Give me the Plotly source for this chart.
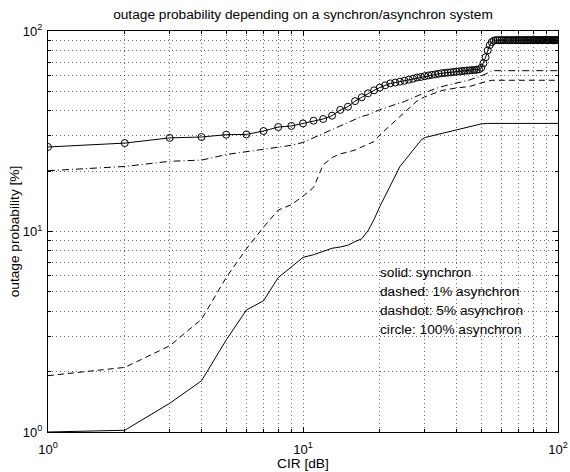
import plotly.graph_objects as go

# ---- data ----
cir_circle = list(range(1, 101))
p_circle = [26.4, 27.6, 29.3, 29.6, 30.4, 30.5, 31.7, 33.2, 33.6, 34.6,
            35.7, 36.4, 37.8, 40.4, 41.9, 44.7, 46.7, 48.9, 50.6, 52.2,
            53.6, 54.8, 55.3, 55.9, 56.5, 57.2, 57.8, 58.6, 59.0, 59.5,
            60.0, 60.4, 60.8, 61.2, 61.6, 61.8, 62.0, 62.2, 62.5, 62.7,
            62.9, 63.1, 63.3, 63.5, 63.6, 63.8, 63.9, 64.1, 64.4, 65.5,
            69.0, 74.0, 80.0, 85.0, 88.0, 89.5, 90.0, 90.0, 90.0, 90.0,
            90.0, 90.0, 90.0, 90.0, 90.0, 90.0, 90.0, 90.0, 90.0, 90.0,
            90.0, 90.0, 90.0, 90.0, 90.0, 90.0, 90.0, 90.0, 90.0, 90.0,
            90.0, 90.0, 90.0, 90.0, 90.0, 90.0, 90.0, 90.0, 90.0, 90.0,
            90.0, 90.0, 90.0, 90.0, 90.0, 90.0, 90.0, 90.0, 90.0, 90.0]

cir_dashdot = [1, 2, 3, 4, 5, 6, 7, 8, 9, 10, 12, 13, 15, 17, 18, 20, 22, 25,
               27, 30, 33, 36, 40, 45, 49, 52, 55, 100]
p_dashdot = [20.1, 21.1, 22.4, 22.7, 24.2, 25.0, 25.8, 26.4, 26.9, 27.8, 30.8,
             32.3, 35.0, 37.5, 38.2, 40.5, 42.2, 44.5, 46.5, 49.0, 51.6, 53.3,
             54.8, 57.0, 59.2, 61.0, 63.4, 63.4]

cir_dashed = [1, 2, 3, 4, 5, 6, 7, 8, 9, 10, 11, 12, 13, 14, 15, 16, 17, 18,
              19, 20, 21, 22, 23, 24, 25, 26, 27, 28, 30, 35, 40, 45, 50, 55, 100]
p_dashed = [1.91, 2.10, 2.69, 3.65, 5.9, 8.2, 10.5, 12.8, 13.6, 15.0, 16.6,
            21.5, 23.4, 24.4, 24.9, 25.5, 26.4, 27.2, 28.1, 30.3, 32.1, 34.0,
            35.6, 37.4, 39.4, 41.3, 43.0, 44.8, 46.9, 50.5, 52.0, 52.9, 55.1,
            56.8, 56.8]

cir_solid = [1, 2, 3, 4, 5, 6, 7, 8, 9, 10, 11, 12, 13, 14, 15, 16, 17, 18,
             19, 20, 21, 22, 23, 24, 25, 26, 27, 28, 29, 30, 33, 40, 45, 50,
             53, 100]
p_solid = [1.0, 1.02, 1.39, 1.80, 2.88, 4.06, 4.51, 5.90, 6.65, 7.43, 7.66,
           7.95, 8.25, 8.37, 8.54, 8.9, 9.2, 10.1, 11.5, 13.3, 15.1, 16.9,
           18.8, 21.1, 22.5, 24.0, 25.5, 27.0, 28.5, 29.4, 30.3, 32.1, 33.3,
           34.4, 34.6, 34.6]

legend_lines = ["solid: synchron", "dashed: 1% asynchron",
                "dashdot: 5% asynchron", "circle: 100% asynchron"]

major_vals = [1, 10, 100]
major_text = ["10<sup>0</sup>", "10<sup>1</sup>", "10<sup>2</sup>"]
minor_vals = [2, 3, 4, 5, 6, 7, 8, 9, 20, 30, 40, 50, 60, 70, 80, 90]

FONT = "Liberation Sans, Arial, Helvetica, sans-serif"
TXT = 13.7

fig = go.Figure()
fig.add_trace(go.Scatter(x=cir_solid, y=p_solid, mode="lines",
                         line=dict(color="black", width=1)))
fig.add_trace(go.Scatter(x=cir_dashed, y=p_dashed, mode="lines",
                         line=dict(color="black", width=1, dash="6px,4px")))
fig.add_trace(go.Scatter(x=cir_dashdot, y=p_dashdot, mode="lines",
                         line=dict(color="black", width=1, dash="7px,3px,1px,3px")))
fig.add_trace(go.Scatter(x=cir_circle, y=p_circle, mode="lines+markers",
                         line=dict(color="black", width=1),
                         marker=dict(symbol="circle-open", size=7,
                                     color="black", line=dict(width=1, color="black"))))

grid_col = "rgba(0,0,0,0.6)"
axis_common = dict(
    type="log", showline=True, linecolor="black", linewidth=1, mirror="allticks",
    ticks="inside", ticklen=5, tickcolor="black", tickwidth=1,
    tickmode="array", tickvals=major_vals, ticktext=major_text,
    showgrid=True, gridcolor=grid_col, gridwidth=1, griddash="1px,3px",
    zeroline=False, automargin=False,
    tickfont=dict(family=FONT, size=13, color="black"),
    minor=dict(tickmode="array", tickvals=minor_vals, ticks="inside", ticklen=3,
               tickcolor="black", tickwidth=1, showgrid=True, gridcolor=grid_col,
               gridwidth=1, griddash="1px,3px"),
)

fig.update_layout(
    width=570, height=472,
    margin=dict(l=48, r=12, t=31, b=40, autoexpand=False),
    paper_bgcolor="white", plot_bgcolor="white",
    showlegend=False,
    font=dict(family=FONT, size=TXT, color="black"),
    title=dict(text="outage probability depending on a synchron/asynchron system",
               x=(48 + 558) / 2 / 570, xanchor="center", y=1 - 14 / 472, yanchor="middle",
               font=dict(family=FONT, size=TXT, color="black"), automargin=False),
    xaxis=dict(axis_common, range=[0, 2], ticklabelstandoff=5),
    yaxis=dict(axis_common, range=[0, 2], ticklabelstandoff=2,
               title=dict(text="outage probability [%]", standoff=0,
                          font=dict(family=FONT, size=TXT, color="black"))),
)

# x-axis title placed as paper annotation (just below the tick labels)
fig.add_annotation(x=0.5, y=(432 - 463) / 401, xref="paper", yref="paper",
                   text="CIR [dB]", showarrow=False, xanchor="center",
                   yanchor="middle", font=dict(family=FONT, size=TXT, color="black"))

ys = [0.7945, 0.700, 0.605, 0.512]
for txt, yv in zip(legend_lines, ys):
    fig.add_annotation(x=1.301, y=yv, xref="x", yref="y", text=txt,
                       showarrow=False, xanchor="left", yanchor="middle",
                       xshift=-2,
                       font=dict(family=FONT, size=TXT, color="black"))

fig.write_html("out.html")
